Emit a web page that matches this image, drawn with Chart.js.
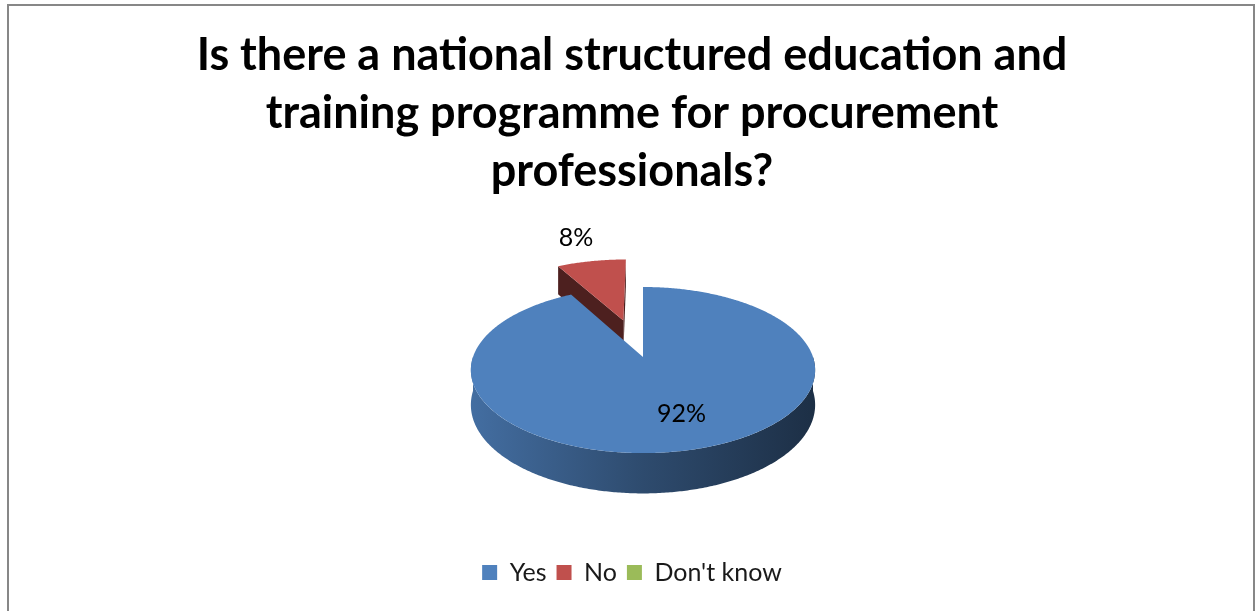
<!DOCTYPE html>
<html>
<head>
<meta charset="utf-8">
<title>National procurement training programme</title>
<script src="https://cdn.jsdelivr.net/npm/chart.js@4.4.1/dist/chart.umd.min.js"></script>
<style>
  html, body { margin: 0; padding: 0; background: #fff; }
  canvas { display: block; }
</style>
</head>
<body>
<canvas id="pieChart" width="1256" height="611"></canvas>
<script>
// Survey answers
const answers = ['Yes', 'No', "Don't know"];
const percentages = [92, 8, 0];
const titleLines = [
  'Is there a national structured education and',
  'training programme for procurement',
  'professionals?'
];

// Office palette
const sliceColors = ['#4F81BD', '#C0504D', '#9BBB59'];

// Tilted disc seen in perspective: centre, radii, perspective factor, thickness (px)
const disc = { cx: 643, cy: 357, rx: 170, ry: 81, persp: 0.157, depth: 34 };

// X = across, T = depth (positive toward the viewer), h = 0 top face / 1 bottom face
function project(X, T, h) {
  const s = 1 / (1 - disc.persp * T);
  return {
    x: disc.cx + disc.rx * X * s,
    y: disc.cy + (disc.ry * T + disc.depth * h) * s
  };
}

function shade(hex, f) {
  const n = parseInt(hex.slice(1), 16);
  const r = Math.round(((n >> 16) & 255) * f);
  const g = Math.round(((n >> 8) & 255) * f);
  const b = Math.round((n & 255) * f);
  return `rgb(${r},${g},${b})`;
}

function fillPoly(ctx, pts, style) {
  ctx.beginPath();
  pts.forEach((p, k) => (k ? ctx.lineTo(p.x, p.y) : ctx.moveTo(p.x, p.y)));
  ctx.closePath();
  ctx.fillStyle = style;
  ctx.fill();
}

// Draws the arcs computed by the pie controller as an extruded 3D pie
const pie3d = {
  id: 'pie3d',
  beforeDatasetsDraw(chart, args, opts) {
    const ctx = chart.ctx;
    const ds = chart.data.datasets[0];
    const total = ds.data.reduce((a, b) => a + b, 0);
    const explode = opts.explode || [];

    const slices = chart.getDatasetMeta(0).data.map((arc, i) => {
      const mid = (arc.startAngle + arc.endAngle) / 2;
      const e = explode[i] || 0;
      return {
        i, a0: arc.startAngle, a1: arc.endAngle, mid,
        ox: e * Math.cos(mid), oz: e * Math.sin(mid),
        color: ds.backgroundColor[i], value: ds.data[i]
      };
    }).filter(s => s.a1 - s.a0 > 1e-6);

    // back to front
    slices.sort((p, q) => (p.oz + Math.sin(p.mid)) - (q.oz + Math.sin(q.mid)));

    const pt = (s, r, a, h) => project(s.ox + r * Math.cos(a), s.oz + r * Math.sin(a), h);
    const rim = (s, b0, b1, h) => {
      const n = Math.max(2, Math.ceil((b1 - b0) / 0.01));
      const out = [];
      for (let k = 0; k <= n; k++) out.push(pt(s, 1, b0 + (b1 - b0) * k / n, h));
      return out;
    };

    ctx.save();
    slices.forEach(s => {
      // radial cut faces
      [[s.a0, -1], [s.a1, 1]].forEach(([a, side]) => {
        const q = [pt(s, 0, a, 0), pt(s, 1, a, 0), pt(s, 1, a, 1), pt(s, 0, a, 1)];
        let area = 0;
        q.forEach((p, k) => { const nx = q[(k + 1) % 4]; area += p.x * nx.y - nx.x * p.y; });
        if (area * side > 0) fillPoly(ctx, q, shade(s.color, 0.4));
      });

      // outer wall, front half only
      [[-2 * Math.PI, -Math.PI], [0, Math.PI], [2 * Math.PI, 3 * Math.PI]].forEach(([lo, hi]) => {
        const b0 = Math.max(lo, s.a0), b1 = Math.min(hi, s.a1);
        if (b1 <= b0) return;
        const left = project(-1.02, 0.16, 0).x, right = project(1.02, 0.16, 0).x;
        const grad = ctx.createLinearGradient(left, 0, right, 0);
        grad.addColorStop(0, shade(s.color, 0.86));
        grad.addColorStop(0.5, shade(s.color, 0.58));
        grad.addColorStop(1, shade(s.color, 0.36));
        fillPoly(ctx, rim(s, b0, b1, 0).concat(rim(s, b0, b1, 1).reverse()), grad);
      });

      // top face
      fillPoly(ctx, [pt(s, 0, s.a0, 0)].concat(rim(s, s.a0, s.a1, 0)), s.color);
    });

    // percentage labels: inside for large slices, outside end for small ones
    ctx.font = '25px Lato';
    ctx.fillStyle = '#000';
    ctx.textAlign = 'center';
    ctx.textBaseline = 'middle';
    slices.forEach(s => {
      const r = s.value / total < 0.1 ? 1.47 : 0.65;
      const p = pt(s, r, s.mid, 0);
      ctx.fillText(`${s.value}%`, p.x + (r < 1 ? 8 : -3), p.y);
    });
    ctx.restore();
    return false;
  }
};

// White background and grey chart frame
const frame = {
  id: 'frame',
  beforeDraw(chart) {
    const ctx = chart.ctx;
    ctx.save();
    ctx.fillStyle = '#fff';
    ctx.fillRect(0, 0, chart.width, chart.height);
    ctx.restore();
  },
  afterDraw(chart) {
    const ctx = chart.ctx;
    ctx.save();
    ctx.strokeStyle = '#878787';
    ctx.lineWidth = 2;
    ctx.strokeRect(8, 5, 1246, 700);
    ctx.restore();
  }
};

new Chart(document.getElementById('pieChart'), {
  type: 'pie',
  data: {
    labels: answers,
    datasets: [{
      data: percentages,
      backgroundColor: sliceColors,
      borderWidth: 0
    }]
  },
  options: {
    responsive: false,
    animation: false,
    layout: { padding: { left: 8, bottom: 16 } },
    plugins: {
      pie3d: { explode: [0, 0.5, 0] },
      title: {
        display: true,
        text: titleLines,
        color: '#000',
        font: { family: 'Lato', size: 45, weight: 'bold', lineHeight: 1.28 },
        padding: { top: 27, bottom: 10 }
      },
      legend: {
        position: 'bottom',
        labels: {
          boxWidth: 15,
          boxHeight: 15,
          padding: 10,
          color: '#1a1a1a',
          font: { family: 'Lato', size: 25 }
        }
      },
      tooltip: { enabled: false }
    }
  },
  plugins: [pie3d, frame]
});
</script>
</body>
</html>
